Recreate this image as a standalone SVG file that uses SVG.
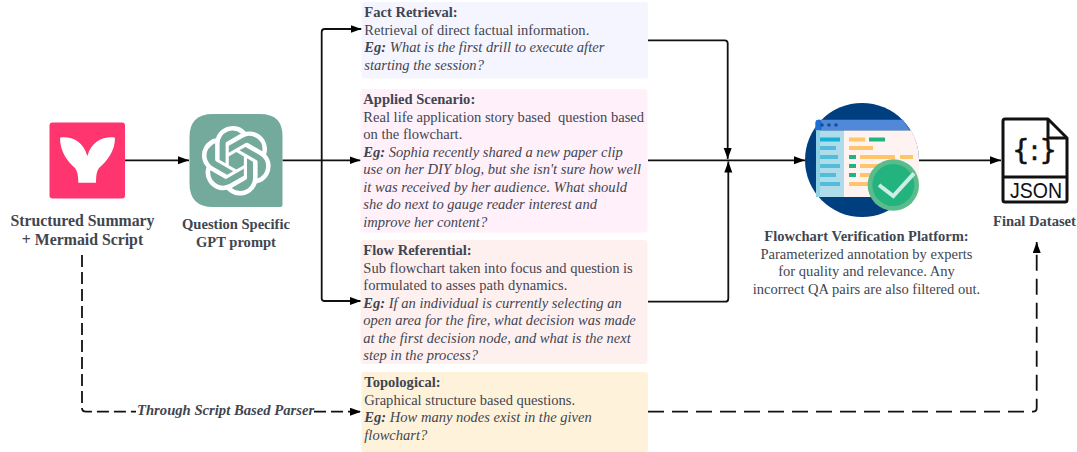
<svg xmlns="http://www.w3.org/2000/svg" width="1077" height="452" viewBox="0 0 1077 452">
<style>
text{font-family:"Liberation Serif","Times New Roman",serif;font-size:14.56px;fill:#3f4650}
.b{font-weight:bold}
.i{font-style:italic}
.bi{font-weight:bold;font-style:italic}
.c{text-anchor:middle}
.big{font-size:15.8px}
.line{fill:none;stroke:#111;stroke-width:1.8}
.dash-a{stroke-dasharray:12 5}
.dash-b{stroke-dasharray:16 8}
</style>
<defs>
<marker id="arrow" markerUnits="userSpaceOnUse" markerWidth="12" markerHeight="10" refX="11" refY="4" orient="auto"><path d="M0 0L11 4L0 8z" fill="#000"/></marker>
</defs>
<rect width="1077" height="452" fill="#fff"/>
<g id="connectors">
<path class="line" marker-end="url(#arrow)" d="M125 160.300H189"/>
<path class="line" marker-end="url(#arrow)" d="M282.500 160.300H360.500"/>
<path class="line" marker-end="url(#arrow)" d="M321.700 160.300V32Q321.700 29 324.700 29H361.500"/>
<path class="line" marker-end="url(#arrow)" d="M321.700 160.300V298.500Q321.700 301 324.700 301H361"/>
<path class="line" marker-end="url(#arrow)" d="M648 40.300H724.700Q727.700 40.300 727.700 43.300V159"/>
<path class="line" marker-end="url(#arrow)" d="M648 160.300H805"/>
<path class="line" marker-end="url(#arrow)" d="M648 301.700H725.300Q728.300 301.700 728.300 298.700V161.500"/>
<path class="line" marker-end="url(#arrow)" d="M919 160.300H1001"/>
<path class="line dash-a" d="M82 255V408Q82 411.700 86 411.700H136"/>
<path class="line dash-a" marker-end="url(#arrow)" d="M314 411.700H361"/>
<path class="line dash-b" marker-end="url(#arrow)" d="M648 411.700H1033Q1036.700 411.700 1036.700 408V242"/>
</g>
<g id="summary">
<rect x="49.500" y="122.500" width="75.500" height="76" rx="3" fill="#ff3570"/>
<path d="M60 137.700C70 136 83 140 87.300 156C92 140 105 136 115 137.700C115 152 106 162 99 168C97 171 96 174 96 182.700H78.300C78.300 174 77 171 75 168C68 162 60 152 60 137.700Z" fill="#fff"/>
<text class="b c big" x="82.500" y="226">Structured Summary</text>
<text class="b c big" x="82.500" y="245">+ Mermaid Script</text>
</g>
<g id="gpt">
<path d="M213 114H260Q282.500 114 282.500 136V205Q282.500 207 280.500 207H213Q189.500 207 189.500 183V137Q189.500 114 213 114Z" fill="#74aa9c"/>
<path transform="translate(201.500 126) scale(2.9)" fill="#fff" d="M22.2819 9.8211a5.9847 5.9847 0 0 0-.5157-4.9108 6.0462 6.0462 0 0 0-6.5098-2.9A6.0651 6.0651 0 0 0 4.9807 4.1818a5.9847 5.9847 0 0 0-3.9977 2.9 6.0462 6.0462 0 0 0 .7427 7.0966 5.98 5.98 0 0 0 .511 4.9107 6.051 6.051 0 0 0 6.5146 2.9001A5.9847 5.9847 0 0 0 13.2599 24a6.0557 6.0557 0 0 0 5.7718-4.2058 5.9894 5.9894 0 0 0 3.9977-2.9001 6.0557 6.0557 0 0 0-.7475-7.0729zm-9.022 12.6081a4.4755 4.4755 0 0 1-2.8764-1.0408l.1419-.0804 4.7783-2.7582a.7948.7948 0 0 0 .3927-.6813v-6.7369l2.02 1.1686a.071.071 0 0 1 .038.052v5.5826a4.504 4.504 0 0 1-4.4945 4.4944zm-9.6607-4.1254a4.4708 4.4708 0 0 1-.5346-3.0137l.142.0852 4.783 2.7582a.7712.7712 0 0 0 .7806 0l5.8428-3.3685v2.3324a.0804.0804 0 0 1-.0332.0615L9.74 19.9502a4.4992 4.4992 0 0 1-6.1408-1.6464zM2.3408 7.8956a4.485 4.485 0 0 1 2.3655-1.9728V11.6a.7664.7664 0 0 0 .3879.6765l5.8144 3.3543-2.0201 1.1685a.0757.0757 0 0 1-.071 0l-4.8303-2.7865A4.504 4.504 0 0 1 2.3408 7.872zm16.5963 3.8558L13.1038 8.364 15.1192 7.2a.0757.0757 0 0 1 .071 0l4.8303 2.7913a4.4944 4.4944 0 0 1-.6765 8.1042v-5.6772a.79.79 0 0 0-.407-.667zm2.0107-3.0231l-.142-.0852-4.7735-2.7818a.7759.7759 0 0 0-.7854 0L9.409 9.2297V6.8974a.0662.0662 0 0 1 .0284-.0615l4.8303-2.7866a4.4992 4.4992 0 0 1 6.6802 4.66zM8.3065 12.863l-2.02-1.1638a.0804.0804 0 0 1-.038-.0567V6.0742a4.4992 4.4992 0 0 1 7.3757-3.4537l-.142.0805L8.704 5.459a.7948.7948 0 0 0-.3927.6813zm1.0976-2.3654l2.602-1.4998 2.6069 1.4998v2.9994l-2.5974 1.4997-2.6067-1.4997Z"/>
<text class="b c" x="236" y="229">Question Specific</text>
<text class="b c" x="236" y="247">GPT prompt</text>
</g>
<g id="fact">
<rect x="361.500" y="2" width="286.500" height="76.500" rx="3" fill="#f5f5ff"/>
<text x="364.300" y="17" class="b">Fact Retrieval:</text>
<text x="364.300" y="34.500">Retrieval of direct factual information.</text>
<text x="364.300" y="52"><tspan class="bi">Eg:</tspan><tspan class="i"> What is the first drill to execute after</tspan></text>
<text x="364.300" y="69.500" class="i">starting the session?</text>
</g>
<g id="applied">
<rect x="360.500" y="89" width="287" height="143.500" rx="3" fill="#fff0f9"/>
<text x="363.300" y="104" class="b">Applied Scenario:</text>
<text x="363.300" y="121.500" xml:space="preserve">Real life application story based  question based</text>
<text x="363.300" y="139">on the flowchart.</text>
<text x="363.300" y="156.500"><tspan class="bi">Eg:</tspan><tspan class="i"> Sophia recently shared a new paper clip</tspan></text>
<text x="363.300" y="174" class="i">use on her DIY blog, but she isn't sure how well</text>
<text x="363.300" y="191.500" class="i">it was received by her audience. What should</text>
<text x="363.300" y="209" class="i">she do next to gauge reader interest and</text>
<text x="363.300" y="226.500" class="i">improve her content?</text>
</g>
<g id="flow">
<rect x="360.500" y="240" width="287" height="124" rx="3" fill="#fff0f0"/>
<text x="363.300" y="255" class="b">Flow Referential:</text>
<text x="363.300" y="272.500">Sub flowchart taken into focus and question is</text>
<text x="363.300" y="290">formulated to asses path dynamics.</text>
<text x="363.300" y="307.500"><tspan class="bi">Eg:</tspan><tspan class="i"> If an individual is currently selecting an</tspan></text>
<text x="363.300" y="325" class="i">open area for the fire, what decision was made</text>
<text x="363.300" y="342.500" class="i">at the first decision node, and what is the next</text>
<text x="363.300" y="360" class="i">step in the process?</text>
</g>
<g id="topological">
<rect x="361.500" y="372" width="286.500" height="80" rx="3" fill="#fff2da"/>
<text x="364.300" y="387" class="b">Topological:</text>
<text x="364.300" y="404.500">Graphical structure based questions.</text>
<text x="364.300" y="422"><tspan class="bi">Eg:</tspan><tspan class="i"> How many nodes exist in the given</tspan></text>
<text x="364.300" y="439.500" class="i">flowchart?</text>
</g>
<g id="parser-label">
<text class="bi" x="137" y="415" style="font-size:14.67px">Through Script Based Parser</text>
</g>
<g id="platform">
<circle cx="862" cy="160" r="57" fill="#003f7f"/>
<path d="M815.500 124Q815.500 119.700 819 119.700H903L910 130.500H815.500Z" fill="#5189d8"/>
<rect x="815.500" y="119.700" width="6" height="11" rx="2.500" fill="#1a6fd0"/>
<circle cx="822" cy="125" r="1.800" fill="#12509c"/><circle cx="829" cy="125" r="1.800" fill="#12509c"/><circle cx="836" cy="125" r="1.800" fill="#12509c"/>
<path d="M816 130.500H844V197H816Z" fill="#afdcea"/>
<path d="M816 130.500H820V197H816Z" fill="#8ed0e4"/>
<path d="M844 130.500H911A57 57 0 0 1 919 160V197H844Z" fill="#fff3f1"/>
<g fill="#53bcd8">
<rect x="820" y="137.500" width="20" height="4" fill="#16b0d6"/><rect x="820" y="146" width="16" height="4"/><rect x="820" y="155" width="18" height="4"/><rect x="820" y="164" width="20" height="4"/><rect x="820" y="173" width="16" height="4"/><rect x="820" y="182" width="20" height="4"/>
</g>
<g fill="#ffc56b">
<rect x="849" y="137.500" width="16" height="4"/><rect x="849" y="146" width="24" height="4"/><rect x="860" y="155" width="35" height="4"/><rect x="900" y="155" width="13" height="4"/><rect x="860" y="164" width="30" height="4"/><rect x="860" y="173" width="24" height="4"/><rect x="849" y="182" width="30" height="4"/>
</g>
<g fill="#23b37e">
<rect x="869" y="137.500" width="16" height="4"/><rect x="849" y="155" width="7" height="4"/><rect x="849" y="164" width="7" height="4"/><rect x="849" y="173" width="7" height="4"/>
</g>
<circle cx="893.300" cy="185" r="25.700" fill="#5abc8c"/>
<circle cx="893.300" cy="185" r="21" fill="#23b37e"/>
<path d="M879 185L893.300 196L914 173.300" fill="none" stroke="#cdeee6" stroke-width="4"/>
<text class="b c" x="866.500" y="241">Flowchart Verification Platform:</text>
<text class="c" x="866.500" y="258.500">Parameterized annotation by experts</text>
<text class="c" x="866.500" y="276">for quality and relevance. Any</text>
<text class="c" x="866.500" y="293.500">incorrect QA pairs are also filtered out.</text>
</g>
<g id="json">
<path d="M1005 119H1048L1067 138V200Q1067 202 1065 202H1005Q1003 202 1003 200V121Q1003 119 1005 119Z" fill="#fff" stroke="#111" stroke-width="3" stroke-linejoin="round"/>
<path d="M1048 119V138H1067" fill="none" stroke="#111" stroke-width="3"/>
<path d="M1003 177H1067" stroke="#111" stroke-width="3"/>
<text x="1034.500" y="160" text-anchor="middle" style="font-family:'DejaVu Sans',sans-serif;font-size:28px;fill:#111;stroke:#111;stroke-width:.5">{:}</text>
<text x="1010" y="197.500" textLength="52" lengthAdjust="spacingAndGlyphs" style="font-family:'Liberation Sans',sans-serif;font-size:21.500px;fill:#111">JSON</text>
<text class="b c" x="1034.500" y="226">Final Dataset</text>
</g>
</svg>
